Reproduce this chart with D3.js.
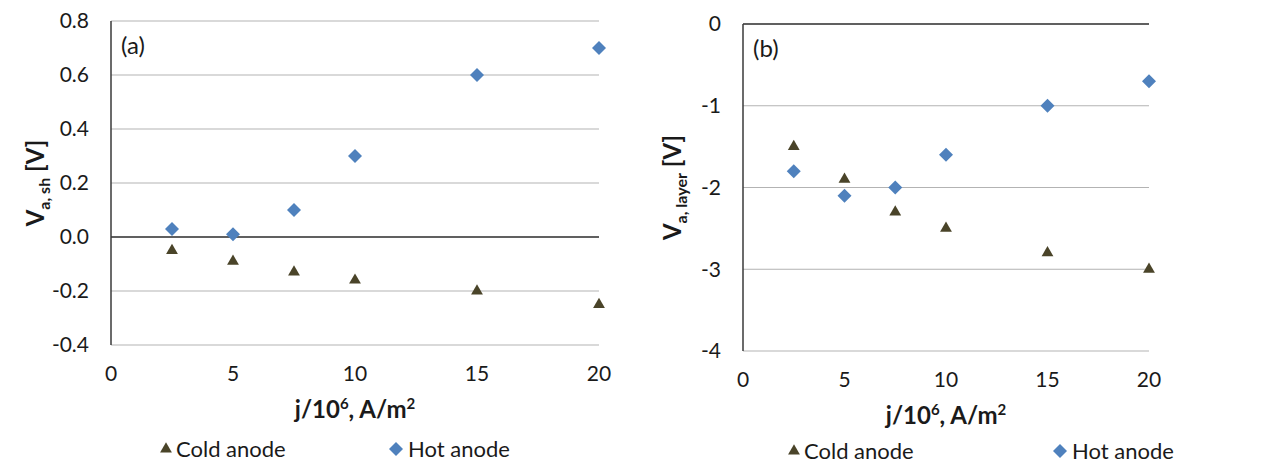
<!DOCTYPE html>
<html>
<head>
<meta charset="utf-8">
<script src="https://cdn.jsdelivr.net/npm/d3@7"></script>
<style>
  body { margin: 0; background: #fff; }
  svg { display: block; font-family: Lato, "Open Sans", sans-serif; }
</style>
</head>
<body>
<div id="chart"></div>
<script>
// data
const currents = [2.5, 5, 7.5, 10, 15, 20];
const coldSheath = [-0.05, -0.09, -0.13, -0.16, -0.20, -0.25];
const hotSheath = [0.03, 0.01, 0.10, 0.30, 0.60, 0.70];
const coldLayer = [-1.5, -1.9, -2.3, -2.5, -2.8, -3.0];
const hotLayer = [-1.8, -2.1, -2.0, -1.6, -1.0, -0.7];
const xTicks = [0, 5, 10, 15, 20];
const yTicksA = [-0.4, -0.2, 0, 0.2, 0.4, 0.6, 0.8];
const yTicksB = [-4, -3, -2, -1, 0];

const COLD = "#4a4429";
const HOT = "#4f81bd";
const TEXT = "#1a1a1a";

const svg = d3.select("#chart").append("svg")
    .attr("width", 1278)
    .attr("height", 466);

const diamond = d3.symbol().type(d3.symbolDiamond2).size(125);
const triangle = d3.symbol().type(d3.symbolTriangle2).size(100);

// excel style: plain hyphen for negatives
const hyphen = f => d => f(d).replace("\u2212", "-");

function panel(opts) {
    const x = d3.scaleLinear().domain([0, 20]).range([opts.x0, opts.x1]);
    const y = d3.scaleLinear().domain(opts.yDomain).range([opts.yBottom, opts.yTop]);
    const g = svg.append("g");

    // horizontal grid
    g.append("g").selectAll("line")
        .data(opts.yTicks.filter(t => t !== 0))
        .join("line")
        .attr("x1", opts.x0).attr("x2", opts.x1)
        .attr("y1", d => y(d)).attr("y2", d => y(d))
        .attr("stroke", "#b3b3b3")
        .attr("stroke-width", 1);

    // zero line
    g.append("line")
        .attr("x1", opts.x0).attr("x2", opts.x1)
        .attr("y1", y(0)).attr("y2", y(0))
        .attr("stroke", "#2b2b2b")
        .attr("stroke-width", 1.5);

    // y axis line
    g.append("line")
        .attr("x1", opts.x0).attr("x2", opts.x0)
        .attr("y1", opts.yTop).attr("y2", opts.yBottom)
        .attr("stroke", "#3a3a3a")
        .attr("stroke-width", 1.5);

    // tick labels
    g.append("g").selectAll("text")
        .data(opts.yTicks)
        .join("text")
        .attr("x", opts.x0 - 22)
        .attr("y", d => y(d))
        .attr("dy", "0.35em")
        .attr("text-anchor", "end")
        .attr("fill", TEXT)
        .style("font-size", "21px")
        .text(opts.yFormat);

    g.append("g").selectAll("text")
        .data(xTicks)
        .join("text")
        .attr("x", d => x(d))
        .attr("y", opts.yBottom + 36)
        .attr("text-anchor", "middle")
        .attr("fill", TEXT)
        .style("font-size", "21px")
        .text(d => d);

    // markers
    g.append("g").selectAll("path")
        .data(currents.map((c, i) => [c, opts.cold[i]]))
        .join("path")
        .attr("d", triangle)
        .attr("transform", d => `translate(${x(d[0])},${y(d[1])})`)
        .attr("fill", COLD);

    g.append("g").selectAll("path")
        .data(currents.map((c, i) => [c, opts.hot[i]]))
        .join("path")
        .attr("d", diamond)
        .attr("transform", d => `translate(${x(d[0])},${y(d[1])})`)
        .attr("fill", HOT);

    // panel letter
    g.append("text")
        .attr("x", opts.x0 + 10)
        .attr("y", opts.yTop + 33)
        .attr("fill", TEXT)
        .style("font-size", "24px")
        .text(opts.letter);

    // x title
    const xt = g.append("text")
        .attr("x", (opts.x0 + opts.x1) / 2)
        .attr("y", opts.xTitleY)
        .attr("text-anchor", "middle")
        .attr("fill", TEXT)
        .style("font-size", "24px")
        .style("font-weight", "bold");
    xt.append("tspan").text("j/10");
    xt.append("tspan").attr("dy", -9).style("font-size", "15px").text("6");
    xt.append("tspan").attr("dy", 9).text(", A/m");
    xt.append("tspan").attr("dy", -9).style("font-size", "15px").text("2");

    // y title
    const yt = g.append("text")
        .attr("transform", `translate(${opts.yTitleX},${(opts.yTop + opts.yBottom) / 2}) rotate(-90)`)
        .attr("text-anchor", "middle")
        .attr("fill", TEXT)
        .style("font-size", "24px")
        .style("font-weight", "bold");
    yt.append("tspan").text("V");
    yt.append("tspan").attr("dy", 6).style("font-size", "16px").text(opts.sub);
    yt.append("tspan").attr("dy", -6).text(" [V]");

    // legend
    const lg = g.append("g")
        .style("font-size", "22px")
        .attr("fill", TEXT);
    lg.append("path")
        .attr("d", triangle)
        .attr("transform", `translate(${opts.legCold},${opts.legY})`)
        .attr("fill", COLD);
    lg.append("text")
        .attr("x", opts.legCold + 10).attr("y", opts.legY).attr("dy", "0.35em")
        .text("Cold anode");
    lg.append("path")
        .attr("d", diamond)
        .attr("transform", `translate(${opts.legHot},${opts.legY})`)
        .attr("fill", HOT);
    lg.append("text")
        .attr("x", opts.legHot + 12).attr("y", opts.legY).attr("dy", "0.35em")
        .text("Hot anode");
}

panel({
    x0: 111, x1: 599, yTop: 21, yBottom: 345,
    yDomain: [-0.4, 0.8], yTicks: yTicksA,
    yFormat: hyphen(d3.format(".1f")),
    cold: coldSheath, hot: hotSheath,
    letter: "(a)", sub: "a, sh", yTitleX: 44, xTitleY: 418,
    legCold: 166, legHot: 396, legY: 449
});

panel({
    x0: 743, x1: 1149, yTop: 24, yBottom: 351,
    yDomain: [-4, 0], yTicks: yTicksB,
    yFormat: hyphen(d3.format("d")),
    cold: coldLayer, hot: hotLayer,
    letter: "(b)", sub: "a, layer", yTitleX: 681, xTitleY: 424,
    legCold: 794, legHot: 1060, legY: 451
});
</script>
</body>
</html>
